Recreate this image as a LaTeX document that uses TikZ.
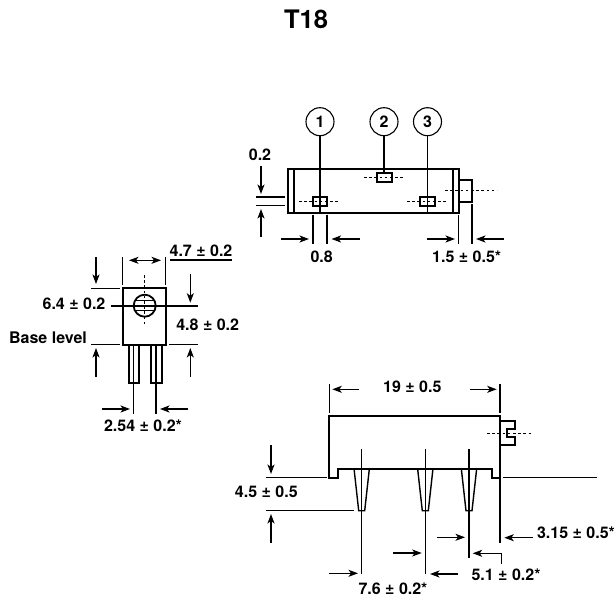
\documentclass[tikz,border=0pt]{standalone}
\usepackage{fontspec}
\setmainfont{TeX Gyre Heros}
\usetikzlibrary{arrows.meta}
\tikzset{
  x=1pt,y=-1pt,
  lbl/.style={font=\fontsize{16}{18}\selectfont\bfseries,inner sep=0pt,text=black},
  thick line/.style={line width=1.8pt,line join=miter},
  dim/.style={line width=1.1pt},
  arr/.style={line width=1.1pt,-{Stealth[length=9.5pt,width=7pt,inset=2.5pt]}},
  dots/.style={line width=1.1pt,dash pattern=on 2.6pt off 2.6pt},
  num/.style={circle,draw,line width=1.1pt,minimum size=28pt,inner sep=0pt,font=\fontsize{16}{18}\selectfont\bfseries}
}
\begin{document}
\begin{tikzpicture}
\useasboundingbox (0,0) rectangle (614,597);
\node[inner sep=0pt,font=\fontsize{25.5}{28}\selectfont\bfseries] (title) at (306,19.5) {T18};
% --- top view ---
\draw[thick line] (287.7,169.3) rectangle (459,212.7);
\draw[thick line] (293.7,169.3) -- (293.7,212.7);
\draw[thick line] (453,169.3) -- (453,212.7);
\draw[thick line] (459,180) -- (472.3,180) -- (472.3,201.7) -- (459,201.7);
\draw[dots] (445,190.7) -- (497,190.7);
\draw[thick line] (312.7,197) rectangle (327.3,205.7);
\draw[thick line] (377,173) rectangle (392,182);
\draw[thick line] (420,197) rectangle (435,205.7);
\draw[dots] (299,201.5) -- (340,201.5);
\draw[dots] (364,177.5) -- (405,177.5);
\draw[dots] (407,201.5) -- (448,201.5);
\node[num] (c1) at (320,121.7) {1};
\node[num] (c2) at (384,121.7) {2};
\node[num] (c3) at (427.5,121.7) {3};
\coordinate (e1) at (320,212);
\coordinate (e2) at (384,173);
\coordinate (e3) at (427.5,212);
\draw[dim] (c1) -- (e1);
\draw[dim] (c2) -- (e2);
\draw[dim] (c3) -- (e3);
% 0.2
\node[lbl] (l02) at (260,155) {0.2};
\draw[dim] (256,197) -- (285,197);
\draw[dim] (256,205.3) -- (285,205.3);
\draw[arr] (261,165.7) -- (261,194);
\draw[arr] (261,237) -- (261,209);
% 0.8
\node[lbl] (l08) at (321.7,257) {0.8};
\draw[dim] (313,214.5) -- (313,244);
\draw[dim] (327,214.5) -- (327,244);
\draw[arr] (281,239) -- (309,239);
\draw[arr] (360,239) -- (331.5,239);
% 1.5
\node[lbl] (l15) at (466.7,257) {1.5 ± 0.5*};
\draw[dim] (458.7,215) -- (458.7,244);
\draw[dim] (472,204) -- (472,244);
\draw[arr] (427,239) -- (455,239);
\draw[arr] (504,239) -- (476,239);
% --- side view ---
\draw[thick line] (122.7,288.3) rectangle (165.7,344.7);
\draw[thick line] (128.7,344.7) -- (128.7,382.7) -- (139,382.7) -- (139,344.7);
\draw[thick line] (151,344.7) -- (151,382.7) -- (161.7,382.7) -- (161.7,344.7);
\draw[dim] (133.3,344.7) -- (133.3,414);
\draw[dim] (156,344.7) -- (156,414);
\draw[thick line] (144.7,305.7) circle[radius=11];
\draw[dim] (134.5,300.7) -- (155,300.7);
\draw[dim] (134.5,310.7) -- (155,310.7);
\draw[dim] (111,306) -- (197.7,306);
\draw[dots] (144.7,275) -- (144.7,326);
\draw[dim] (122.7,257) -- (122.7,285);
\draw[dim] (165.7,257) -- (165.7,285);
\draw[line width=1.1pt,{Stealth[length=9.5pt,width=7pt,inset=2.5pt]}-{Stealth[length=9.5pt,width=7pt,inset=2.5pt]}] (129,260.3) -- (161,260.3);
\node[lbl] (l47) at (201,251) {4.7 ± 0.2};
\draw[dim] (170,260) -- (231.7,260);
\draw[dim] (91,288.3) -- (120,288.3);
\draw[dim] (91,344.7) -- (120,344.7);
\draw[arr] (96,257) -- (96,284);
\draw[arr] (96,376.7) -- (96,348);
\node[lbl] (l64) at (74,304) {6.4 ± 0.2};
\node[lbl] (base) at (48,338) {Base level};
\draw[dim] (169,344.7) -- (197.7,344.7);
\draw[arr] (190.3,274) -- (190.3,302.7);
\draw[arr] (190.3,376.7) -- (190.3,348);
\node[lbl] (l48) at (207.7,325) {4.8 ± 0.2};
\draw[arr] (102,409) -- (130,409);
\draw[arr] (188,409) -- (160,409);
\node[lbl] (l254) at (143,425.7) {2.54 ± 0.2*};
% --- front view ---
\draw[thick line] (337.7,469.3) -- (337.7,477.7) -- (329.3,477.7) -- (329.3,415.7) -- (500,415.7) -- (500,477.7) -- (491.7,477.7) -- (491.7,469.3) -- cycle;
\draw[thick line] (500,421.3) -- (515,421.3) -- (515,429.3) -- (506.7,429.3) -- (506.7,437.3) -- (515,437.3) -- (515,445) -- (500,445);
\draw[dots] (487,433.7) -- (533,433.7);
\foreach \c in {361.7,425.3,469}{
  \draw[line width=1.4pt] (\c-7.6,469.3) -- (\c-3,510.7) -- (\c+3,510.7) -- (\c+7.6,469.3);
}
\draw[dim] (361.7,449.3) -- (361.7,574);
\draw[dim] (425.3,449.3) -- (425.3,574);
\draw[dim] (469,449.3) -- (469,558.3);
\draw[dim] (329.3,384.3) -- (329.3,413);
\draw[dim] (500,384.3) -- (500,413);
\draw[arr] (358.7,389.3) -- (332.3,389.3);
\draw[arr] (470,389.3) -- (496.7,389.3);
\node[lbl] (l19) at (412.3,386.7) {19 ± 0.5};
\draw[dim] (265.7,477.7) -- (326.7,477.7);
\draw[dim] (503.3,477.7) -- (597.3,477.7);
\draw[dim] (265.7,510.7) -- (354.3,510.7);
\draw[arr] (271,445.3) -- (271,474);
\draw[arr] (271,542.7) -- (271,514);
\node[lbl] (l45) at (266.3,491.7) {4.5 ± 0.5};
\draw[dim] (500,478) -- (500,542.7);
\draw[arr] (532.7,537.7) -- (504.3,537.7);
\node[lbl] (l315) at (576,532.7) {3.15 ± 0.5*};
\draw[arr] (437,537.3) -- (465,537.3);
\draw[arr] (393,553) -- (421.7,553);
\draw[arr] (501.7,564) -- (501.7,553.3) -- (472.7,553.3);
\node[lbl] (l51) at (506,575) {5.1 ± 0.2*};
\draw[arr] (329,573.3) -- (358,573.3);
\draw[arr] (458,574) -- (430,574);
\node[lbl] (l76) at (393,589) {7.6 ± 0.2*};
\end{tikzpicture}
\end{document}
